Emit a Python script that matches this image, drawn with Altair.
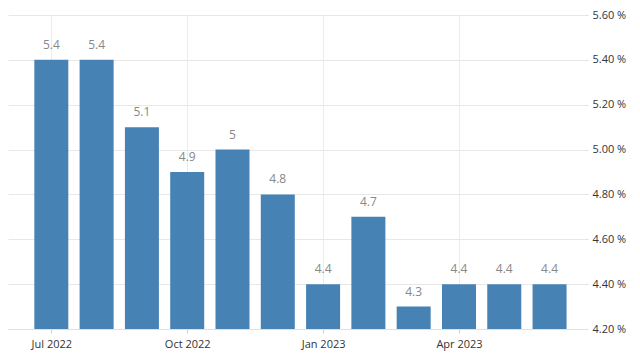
import altair as alt
import pandas as pd

months = ["2022-07", "2022-08", "2022-09", "2022-10", "2022-11", "2022-12",
          "2023-01", "2023-02", "2023-03", "2023-04", "2023-05", "2023-06"]
values = [5.4, 5.4, 5.1, 4.9, 5.0, 4.8, 4.4, 4.7, 4.3, 4.4, 4.4, 4.4]
tick_labels = {0: "Jul 2022", 3: "Oct 2022", 6: "Jan 2023", 9: "Apr 2023"}

df = pd.DataFrame({"idx": list(range(len(months))), "month": months, "value": values})
df["label"] = [("%g" % v) for v in values]

label_expr = " : ".join([f"datum.value == {k} ? '{v}'" for k, v in tick_labels.items()]) + " : ''"

x = alt.X("idx:Q",
          scale=alt.Scale(domain=[-0.846, 11.65], nice=False, zero=False),
          axis=alt.Axis(values=list(tick_labels.keys()), labelExpr=label_expr, title=None,
                        grid=True, gridColor="#ececec", domainColor="#e0e0e0",
                        tickColor="#d0d0d0", tickSize=4, labelColor="#333333",
                        labelFont="Open Sans", labelFontSize=11, labelPadding=5))
y_scale = alt.Scale(domain=[4.2, 5.6], zero=False, nice=False)

bars = alt.Chart(df).mark_bar(size=34, color="#4682B4").encode(
    x=x,
    y=alt.Y("value:Q", scale=y_scale,
            axis=alt.Axis(orient="right", values=[4.2, 4.4, 4.6, 4.8, 5.0, 5.2, 5.4, 5.6],
                          labelExpr="format(datum.value, '.2f') + ' %'", title=None,
                          grid=True, gridColor="#e8e8e8", domain=False,
                          tickColor="#e0e0e0", tickSize=4, labelColor="#333333",
                          labelFont="Open Sans", labelFontSize=11, labelPadding=4)),
    y2=alt.datum(4.2),
)

text = alt.Chart(df).mark_text(baseline="bottom", dy=-8, color="#888888",
                               font="Open Sans", fontSize=12).encode(
    x="idx:Q",
    y=alt.Y("value:Q", scale=y_scale),
    text="label:N",
)

chart = (bars + text).properties(
    width=576, height=314,
    autosize=alt.AutoSizeParams(type="none"),
    padding={"left": 0, "top": 7, "right": 48, "bottom": 22},
).configure_view(stroke=None)

chart.save("out.html", embed_options={"renderer": "svg", "actions": False})
